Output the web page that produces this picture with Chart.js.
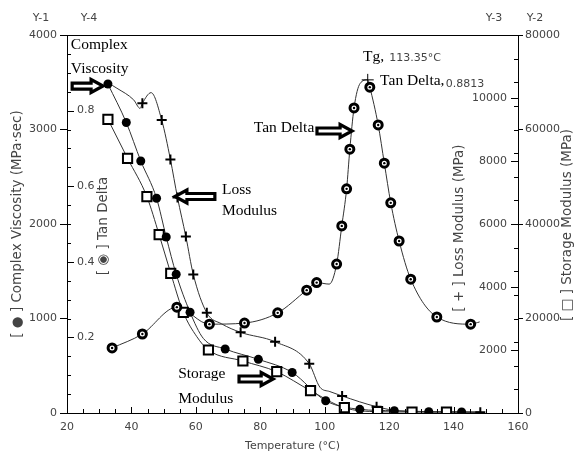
<!DOCTYPE html>
<html>
<head>
<meta charset="utf-8">
<title>DMA temperature sweep</title>
<script src="https://cdn.jsdelivr.net/npm/chart.js@4.4.1/dist/chart.umd.min.js"></script>
<style>
  html, body { margin: 0; padding: 0; background: #fff; }
</style>
</head>
<body>
<canvas id="dma" width="574" height="454"></canvas>
<script>
// ---- data ----
// Tan Delta (Y-4), marker points
const tanT   = [34.0, 43.4, 54.1, 64.2, 75.1, 85.4, 94.4, 97.5, 103.7, 105.3, 106.8, 107.8, 109.1, 114.0, 116.6, 118.5, 120.5, 123.1, 126.7, 134.8, 145.3];
const tanVal = [0.172, 0.209, 0.280, 0.235, 0.238, 0.265, 0.325, 0.345, 0.394, 0.495, 0.593, 0.698, 0.807, 0.862, 0.762, 0.661, 0.556, 0.455, 0.354, 0.254, 0.235];
// extra points the tan delta curve passes through (no marker)
const tanCurveT   = [101.4, 111.0, 113.35, 148.1];
const tanCurveVal = [0.341, 0.872, 0.8813, 0.241];
// Tg peak
const tgT = [113.35];
const tgVal = [0.8813];

// Complex Viscosity (Y-1, MPa·sec)
const cvT   = [32.7, 38.4, 42.9, 47.8, 50.8, 53.9, 58.2, 69.1, 79.4, 89.9, 100.3, 110.9, 121.6, 132.3, 142.5];
const cvVal = [3481, 3074, 2667, 2272, 1862, 1468, 1066, 677, 568, 429, 130, 39, 24, 14, 11];
const cvCurveT   = [62.3, 148.0];
const cvCurveVal = [790, 8];

// Storage Modulus (Y-2, MPa)
const smT   = [32.7, 38.8, 44.8, 48.6, 52.2, 56.1, 63.9, 74.6, 85.1, 95.6, 106.1, 116.4, 127.1, 137.8];
const smVal = [62160, 53900, 45780, 37740, 29570, 21310, 13330, 11000, 8740, 4720, 1120, 275, 210, 210];
const smCurveT   = [60.3, 148.0];
const smCurveVal = [16150, 200];

// Loss Modulus (Y-3, MPa)
const lossT   = [43.4, 49.4, 52.1, 54.3, 56.9, 59.2, 63.4, 73.9, 84.6, 95.2, 105.4, 116.1, 148.3];
const lossVal = [9830, 9300, 8050, 6840, 5600, 4400, 3180, 2560, 2260, 1560, 540, 200, 22];
const lossCurveT   = [32.9, 35.5, 40.7, 42.7, 46.1, 68.0, 98.5, 101.6, 123.3, 135.7];
const lossCurveVal = [10470, 10310, 9940, 9670, 10170, 2830, 820, 680, 63, 32];

// axis ticks
const xTicks = [20, 40, 60, 80, 100, 120, 140, 160];
const y1Ticks = [0, 1000, 2000, 3000, 4000];
const y2Ticks = [0, 20000, 40000, 60000, 80000];
const y3Ticks = [2000, 4000, 6000, 8000, 10000];
const y4Ticks = [0.2, 0.4, 0.6, 0.8];

const sans = 'DejaVu Sans';
const serif = 'Liberation Serif';
const grey = '#444';

const pts = (xs, ys) => xs.map((x, i) => ({ x: x, y: ys[i] }));
const curve = (xs, ys, cx, cy) => pts(xs.concat(cx), ys.concat(cy)).sort((a, b) => a.x - b.x);
const fixedTicks = list => sc => { sc.ticks = list.map(v => ({ value: v })); };
const plain = v => String(v);

// text notes and arrows, placed in data units of the given axis
const notes = [
  { text: 'Complex', x: 21.2, axis: 'y1', v: 3894 },
  { text: 'Viscosity', x: 21.2, axis: 'y1', v: 3640 },
  { text: 'Loss', x: 68.1, axis: 'y3', v: 7080 },
  { text: 'Modulus', x: 68.1, axis: 'y3', v: 6410 },
  { text: 'Storage', x: 54.5, axis: 'y2', v: 8250 },
  { text: 'Modulus', x: 54.5, axis: 'y2', v: 2960 },
  { text: 'Tan Delta', x: 78.0, axis: 'y4', v: 0.754 },
  { text: 'Tg,', x: 111.9, axis: 'y4', v: 0.942 },
  { text: 'Tan Delta,', x: 117.2, axis: 'y4', v: 0.878 }
];
const smallNotes = [
  { text: '113.35°C', x: 120.0, axis: 'y4', v: 0.940 },
  { text: '0.8813', x: 137.6, axis: 'y4', v: 0.870 }
];
const arrows = [
  { from: 21.6, to: 31.2, axis: 'y1', v: 3460 },
  { from: 65.9, to: 53.5, axis: 'y3', v: 6873 },
  { from: 97.6, to: 108.5, axis: 'y4', v: 0.746 },
  { from: 73.4, to: 84.0, axis: 'y2', v: 7196 }
];

function drawArrow(ctx, x0, x1, y) {
  const dir = Math.sign(x1 - x0);
  const hl = 12 * dir, hh = 6.5, bh = 3;
  ctx.beginPath();
  ctx.moveTo(x0, y - bh);
  ctx.lineTo(x1 - hl, y - bh);
  ctx.lineTo(x1 - hl, y - hh);
  ctx.lineTo(x1, y);
  ctx.lineTo(x1 - hl, y + hh);
  ctx.lineTo(x1 - hl, y + bh);
  ctx.lineTo(x0, y + bh);
  ctx.closePath();
  ctx.fillStyle = '#fff';
  ctx.fill();
  ctx.lineWidth = 3.2;
  ctx.miterLimit = 3;
  ctx.strokeStyle = '#000';
  ctx.stroke();
}

const decorations = {
  id: 'decorations',
  afterDraw(chart) {
    const ctx = chart.ctx;
    const { left, right, top, bottom } = chart.chartArea;
    const s = chart.scales;
    ctx.save();

    // top frame line
    ctx.strokeStyle = '#000';
    ctx.lineWidth = 1;
    ctx.beginPath();
    ctx.moveTo(left, top + 0.5);
    ctx.lineTo(right, top + 0.5);
    ctx.stroke();

    // inner ticks
    ctx.beginPath();
    for (let t = 20; t <= 160; t += 5) {
      const X = Math.round(s.x.getPixelForValue(t)) + 0.5;
      ctx.moveTo(X, bottom);
      ctx.lineTo(X, bottom - (t % 20 === 0 ? 6 : 4));
    }
    for (let v = 200; v < 4000; v += 200) {
      const Y = Math.round(s.y1.getPixelForValue(v)) + 0.5;
      ctx.moveTo(left, Y);
      ctx.lineTo(left + 4, Y);
    }
    y4Ticks.forEach(v => {
      const Y = Math.round(s.y4.getPixelForValue(v)) + 0.5;
      ctx.moveTo(left, Y);
      ctx.lineTo(left + 7, Y);
    });
    for (let v = 5000; v < 80000; v += 5000) {
      const Y = Math.round(s.y2.getPixelForValue(v)) + 0.5;
      ctx.moveTo(right, Y);
      ctx.lineTo(right - 4, Y);
    }
    y3Ticks.forEach(v => {
      const Y = Math.round(s.y3.getPixelForValue(v)) + 0.5;
      ctx.moveTo(right, Y);
      ctx.lineTo(right - 7, Y);
    });
    ctx.stroke();

    // mirrored tick labels of Y-4 and Y-3
    ctx.fillStyle = grey;
    ctx.font = '11px "' + sans + '"';
    ctx.textBaseline = 'middle';
    ctx.textAlign = 'left';
    y4Ticks.forEach(v => ctx.fillText(v.toFixed(1), left + 10, s.y4.getPixelForValue(v)));
    ctx.textAlign = 'right';
    y3Ticks.forEach(v => ctx.fillText(String(v), right - 11, s.y3.getPixelForValue(v)));

    // axis names above the plot
    ctx.textAlign = 'center';
    ctx.fillText('Y-1', left - 26, top - 17);
    ctx.fillText('Y-4', left + 22, top - 17);
    ctx.fillText('Y-3', right - 24, top - 17);
    ctx.fillText('Y-2', right + 17, top - 17);

    // rotated axis titles
    const vtitle = (text, x, y) => {
      ctx.save();
      ctx.translate(x, y);
      ctx.rotate(-Math.PI / 2);
      ctx.font = '13.5px "' + sans + '"';
      ctx.textAlign = 'center';
      ctx.textBaseline = 'middle';
      ctx.fillText(text, 0, 0);
      ctx.restore();
    };
    const mid = (top + bottom) / 2;
    vtitle('[ \u25C9 ] Tan Delta', left + 36, mid + 2);
    vtitle('[ + ] Loss Modulus (MPa)', right - 59, mid + 4);
    vtitle('[ \u25A1 ] Storage Modulus (MPa)', right + 49, mid + 1);

    // arrows
    arrows.forEach(a => {
      const Y = s[a.axis].getPixelForValue(a.v);
      drawArrow(ctx, s.x.getPixelForValue(a.from), s.x.getPixelForValue(a.to), Y);
    });

    // notes
    ctx.fillStyle = '#000';
    ctx.textAlign = 'left';
    ctx.textBaseline = 'middle';
    ctx.font = '15.5px "' + serif + '"';
    notes.forEach(n => ctx.fillText(n.text, s.x.getPixelForValue(n.x), s[n.axis].getPixelForValue(n.v)));
    ctx.fillStyle = grey;
    ctx.font = '11px "' + sans + '"';
    smallNotes.forEach(n => ctx.fillText(n.text, s.x.getPixelForValue(n.x), s[n.axis].getPixelForValue(n.v)));

    ctx.restore();
  }
};

const lineStyle = {
  showLine: true,
  pointRadius: 0,
  borderColor: '#333',
  borderWidth: 1,
  fill: false,
  cubicInterpolationMode: 'monotone'
};

new Chart(document.getElementById('dma'), {
  type: 'scatter',
  data: {
    datasets: [
      // markers (first datasets are drawn on top)
      { label: 'Tg', data: pts(tgT, tgVal), yAxisID: 'y4', pointStyle: 'cross', pointRadius: 6, borderColor: '#000', borderWidth: 1 },
      { label: 'Tan Delta dot', data: pts(tanT, tanVal), yAxisID: 'y4', pointStyle: 'circle', pointRadius: 1.2, backgroundColor: '#000', borderWidth: 0 },
      { label: 'Tan Delta', data: pts(tanT, tanVal), yAxisID: 'y4', pointStyle: 'circle', pointRadius: 4, backgroundColor: '#fff', borderColor: '#000', borderWidth: 3 },
      { label: 'Complex Viscosity', data: pts(cvT, cvVal), yAxisID: 'y1', pointStyle: 'circle', pointRadius: 4.5, backgroundColor: '#000', borderColor: '#000', borderWidth: 0 },
      { label: 'Storage Modulus', data: pts(smT, smVal), yAxisID: 'y2', pointStyle: 'rect', pointRadius: 6.5, backgroundColor: '#fff', borderColor: '#000', borderWidth: 2 },
      { label: 'Loss Modulus', data: pts(lossT, lossVal), yAxisID: 'y3', pointStyle: 'cross', pointRadius: 5, borderColor: '#000', borderWidth: 2 },
      // curves
      Object.assign({ label: 'Tan Delta curve', data: curve(tanT, tanVal, tanCurveT, tanCurveVal), yAxisID: 'y4' }, lineStyle),
      Object.assign({ label: 'Complex Viscosity curve', data: curve(cvT, cvVal, cvCurveT, cvCurveVal), yAxisID: 'y1' }, lineStyle),
      Object.assign({ label: 'Storage Modulus curve', data: curve(smT, smVal, smCurveT, smCurveVal), yAxisID: 'y2' }, lineStyle),
      Object.assign({ label: 'Loss Modulus curve', data: curve(lossT, lossVal, lossCurveT, lossCurveVal), yAxisID: 'y3' }, lineStyle)
    ]
  },
  options: {
    responsive: false,
    animation: false,
    devicePixelRatio: 1,
    layout: { padding: { top: 35, left: 0, right: 0, bottom: 0 } },
    plugins: { legend: { display: false }, tooltip: { enabled: false } },
    scales: {
      x: {
        type: 'linear', min: 20, max: 160,
        afterBuildTicks: fixedTicks(xTicks),
        ticks: { padding: 8, color: grey, font: { family: sans, size: 11 }, callback: plain },
        grid: { drawOnChartArea: false, drawTicks: false },
        border: { color: '#000' },
        title: { display: true, text: 'Temperature (°C)', color: grey, font: { family: sans, size: 11 }, padding: { top: 0, bottom: 1 } },
        afterFit: sc => { sc.height = 41; }
      },
      y1: {
        type: 'linear', position: 'left', min: 0, max: 4000,
        afterBuildTicks: fixedTicks(y1Ticks),
        ticks: { padding: 3, color: grey, font: { family: sans, size: 11 }, callback: plain },
        grid: { drawOnChartArea: false, tickLength: 7, tickColor: '#000' },
        border: { color: '#000' },
        title: { display: true, text: '[ \u25CF ] Complex Viscosity (MPa·sec)', color: grey, font: { family: sans, size: 13.5 }, padding: { top: 9, bottom: 0 } },
        afterFit: sc => { sc.width = 67; }
      },
      y2: {
        type: 'linear', position: 'right', min: 0, max: 80000,
        afterBuildTicks: fixedTicks(y2Ticks),
        ticks: { padding: 2, color: grey, font: { family: sans, size: 11 }, callback: plain },
        grid: { drawOnChartArea: false, tickLength: 5, tickColor: '#000' },
        border: { color: '#000' },
        afterFit: sc => { sc.width = 56; }
      },
      y3: { type: 'linear', display: false, min: 0, max: 12000 },
      y4: { type: 'linear', display: false, min: 0, max: 1 }
    }
  },
  plugins: [decorations]
});
</script>
</body>
</html>
